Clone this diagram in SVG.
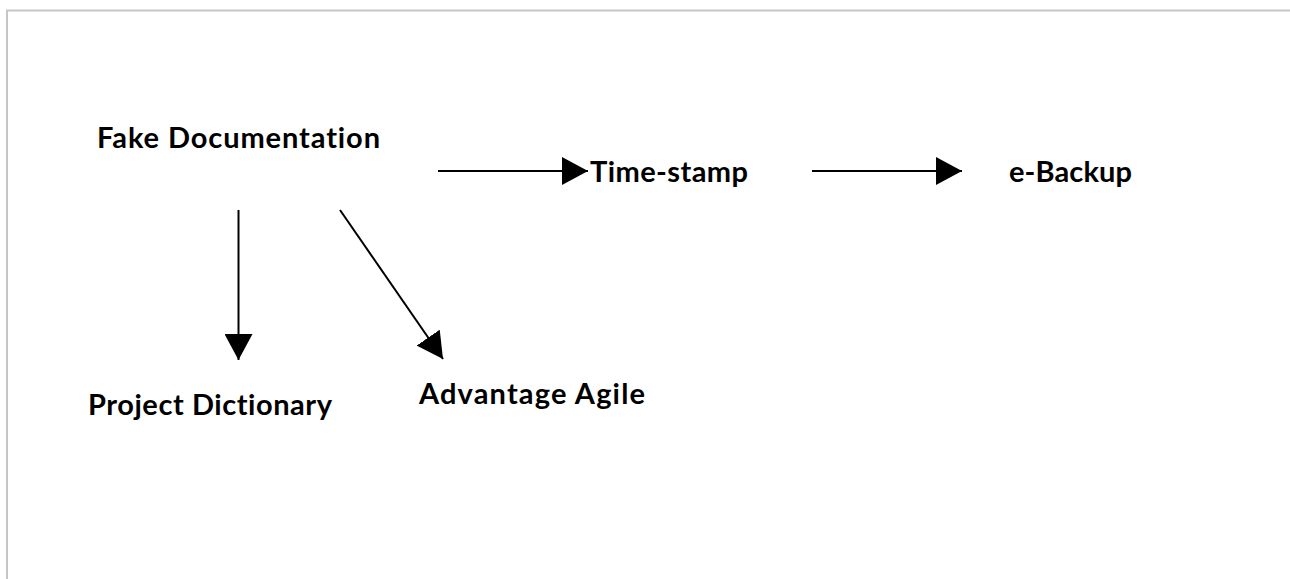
<svg xmlns="http://www.w3.org/2000/svg" width="1290" height="579" viewBox="0 0 1290 579">
  <style>
    .frame { fill: none; stroke: #c6c6c6; stroke-width: 2; }
    .label { font-family: Lato, "Open Sans", sans-serif; font-weight: 700; font-size: 29px; fill: #000; font-variant-ligatures: none; }
    .edge { stroke: #000; stroke-width: 2; fill: none; marker-end: url(#head); }
  </style>
  <defs>
    <marker id="head" viewBox="0 0 26 28" refX="26" refY="14" markerWidth="26" markerHeight="28" markerUnits="userSpaceOnUse" orient="auto">
      <path d="M0 0 L26 14 L0 28 Z" fill="#000"/>
    </marker>
  </defs>
  <rect width="1290" height="579" fill="#fff"/>
  <!-- page frame: top and left edges -->
  <path class="frame" d="M7 579 V10.5 H1290"/>

  <g id="connectors">
    <line class="edge" x1="438" y1="171" x2="588" y2="171"/>
    <line class="edge" x1="812" y1="171" x2="962" y2="171"/>
    <line class="edge" x1="238.5" y1="210" x2="238.5" y2="360"/>
    <line class="edge" x1="340" y1="210" x2="443" y2="359"/>
  </g>

  <g id="fake-documentation"><text class="label" x="97" y="147.5" textLength="283" lengthAdjust="spacing">Fake Documentation</text></g>
  <g id="time-stamp"><text class="label" x="590" y="181.5" textLength="158" lengthAdjust="spacing">Time-stamp</text></g>
  <g id="e-backup"><text class="label" x="1009" y="181.5" textLength="123" lengthAdjust="spacing">e-Backup</text></g>
  <g id="project-dictionary"><text class="label" x="88" y="414.5" textLength="244" lengthAdjust="spacing">Project Dictionary</text></g>
  <g id="advantage-agile"><text class="label" x="419" y="403.5" textLength="226" lengthAdjust="spacing">Advantage Agile</text></g>
</svg>
